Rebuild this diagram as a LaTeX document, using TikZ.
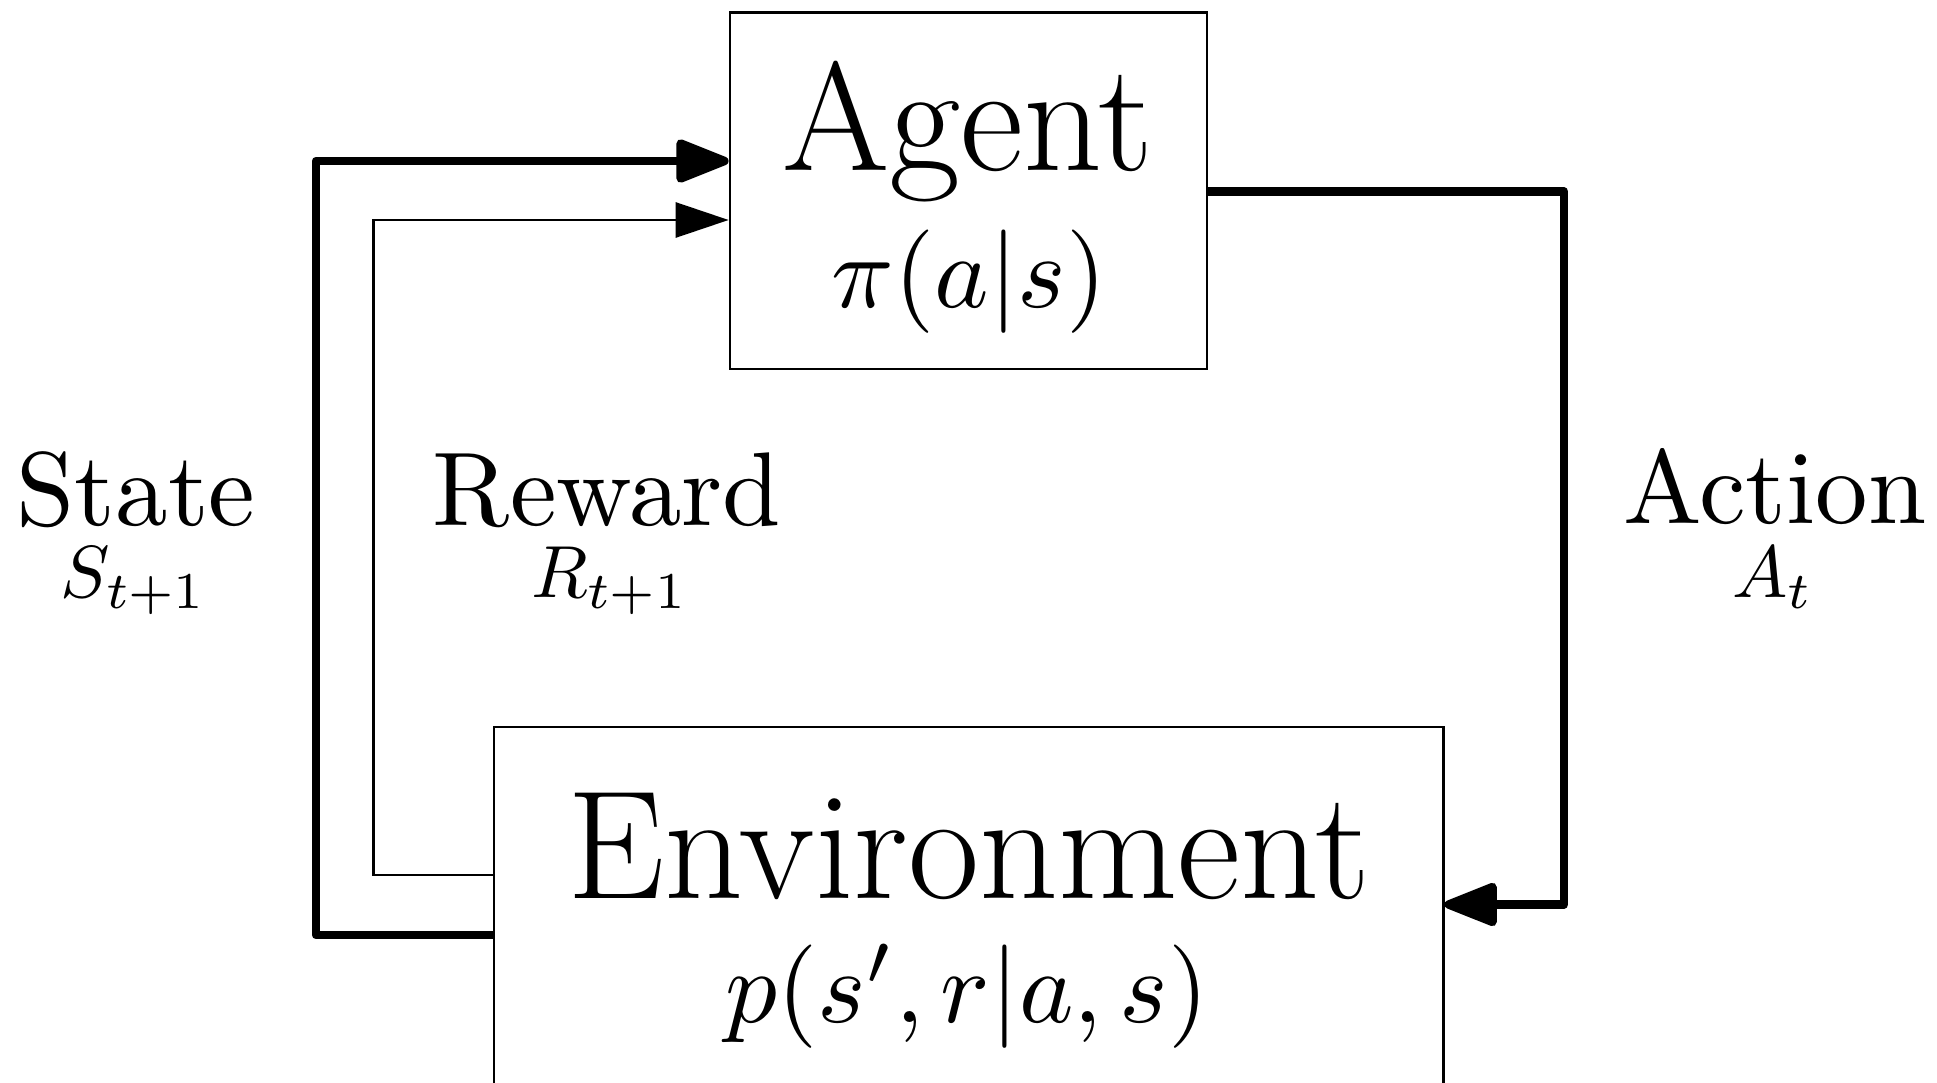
\documentclass[tikz,border=0pt]{standalone}
\usepackage{graphicx}
\usetikzlibrary{arrows.meta}
\newcommand{\bigsz}[1]{\scalebox{1.768}{\Huge #1}}
\newcommand{\midsz}[1]{\scalebox{2.94}{\normalsize #1}}
\newcommand{\lblsz}[1]{\scalebox{2.98}{\normalsize #1}}
\newcommand{\smlsz}[1]{\scalebox{2.1}{\normalsize #1}}
\begin{document}
\begin{tikzpicture}[x=0.01cm,y=-0.01cm,
  box/.style={draw, line width=0.7pt, inner sep=0pt},
  txt/.style={anchor=base, inner sep=0pt},
  heavy/.style={line width=2.4pt, line join=round, -{Triangle[length=0.6cm,width=0.45cm,round]}},
  light/.style={line width=0.8pt, line join=miter, -{Triangle[length=0.53cm,width=0.35cm]}},
]
\useasboundingbox (0,0) rectangle (1937,1082);
\clip (0,0) rectangle (1937,1082);
\node[box, minimum width=4.77cm, minimum height=3.563cm] (agent) at (968.5,190.8) {};
\node[box, minimum width=9.49cm, minimum height=5cm] (env) at (968.5,977) {};
\node[txt] (agentname) at (968,170) {\bigsz{Agent}};
\node[txt] (agentpolicy) at (969,307) {\midsz{$\pi(a|s)$}};
\node[txt] (envname) at (969,898) {\bigsz{Environment}};
\node[txt] (envdyn) at (967,1022) {\midsz{$p(s',r|a,s)$}};
\node[txt] (statew) at (136,525) {\lblsz{State}};
\node[txt] (states) at (134,597) {\smlsz{$S_{t+1}$}};
\node[txt] (rewardw) at (607,525) {\lblsz{Reward}};
\node[txt] (rewards) at (610,597) {\smlsz{$R_{t+1}$}};
\node[txt] (actionw) at (1775,523) {\lblsz{Action}};
\node[txt] (actions) at (1773,597) {\smlsz{$A_t$}};
\coordinate (sb) at (316,935);
\coordinate (st) at (316,161);
\draw[heavy] (env.west |- sb) -- (sb) -- (st) -- (agent.west |- st);
\coordinate (rb) at (373.5,875);
\coordinate (rt) at (373.5,220);
\draw[light] (env.west |- rb) -- (rb) -- (rt) -- (agent.west |- rt);
\coordinate (at) at (1564,191.5);
\coordinate (ab) at (1564,904.5);
\draw[heavy] (agent.east |- at) -- (at) -- (ab) -- (env.east |- ab);
\end{tikzpicture}
\end{document}
